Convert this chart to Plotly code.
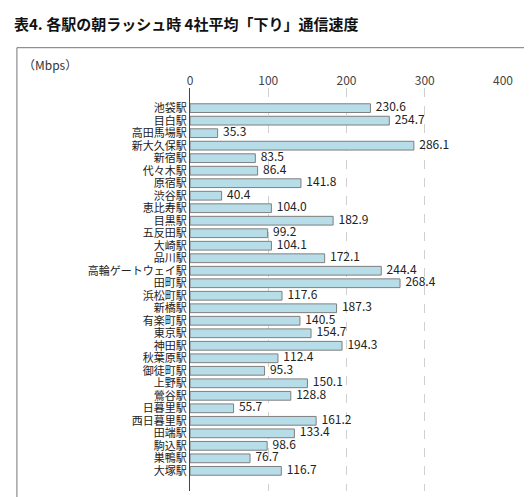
import plotly.graph_objects as go

stations = ["池袋駅", "目白駅", "高田馬場駅", "新大久保駅", "新宿駅", "代々木駅", "原宿駅", "渋谷駅",
            "恵比寿駅", "目黒駅", "五反田駅", "大崎駅", "品川駅", "高輪ゲートウェイ駅", "田町駅",
            "浜松町駅", "新橋駅", "有楽町駅", "東京駅", "神田駅", "秋葉原駅", "御徒町駅", "上野駅",
            "鶯谷駅", "日暮里駅", "西日暮里駅", "田端駅", "駒込駅", "巣鴨駅", "大塚駅"]
speeds = [230.6, 254.7, 35.3, 286.1, 83.5, 86.4, 141.8, 40.4, 104.0, 182.9, 99.2, 104.1,
          172.1, 244.4, 268.4, 117.6, 187.3, 140.5, 154.7, 194.3, 112.4, 95.3, 150.1,
          128.8, 55.7, 161.2, 133.4, 98.6, 76.7, 116.7]
x_ticks = [0, 100, 200, 300, 400]

font = "Noto Sans CJK JP"

fig = go.Figure()
fig.add_trace(go.Bar(
    y=stations,
    x=speeds,
    orientation='h',
    marker=dict(color='#b7dde8', line=dict(color='#7f7f7f', width=1)),
    width=0.7,
))
# value labels
fig.add_trace(go.Scatter(
    y=stations,
    x=speeds,
    mode='text',
    text=[f"  {v:.1f}" for v in speeds],
    textposition='middle right',
    cliponaxis=False,
    textfont=dict(color='#222', size=12, family=font)
))

fig.update_layout(
    width=532, height=497,
    plot_bgcolor='white', paper_bgcolor='white',
    margin=dict(l=182, r=37, t=80, b=14),
    showlegend=False,
    font=dict(family=font, color='#333'),
    xaxis=dict(side='top', range=[0, 400], tickvals=x_ticks, tickfont=dict(size=12, color='#444'),
               showgrid=True, gridcolor='#d0d0d0', griddash='dash', zeroline=False,
               ticks='', showline=False),
    yaxis=dict(autorange='reversed', tickmode='array', tickvals=stations,
               tickfont=dict(size=11, color='#222'), ticks='',
               showline=True, linecolor='#444', linewidth=1),
    shapes=[dict(type='rect', xref='paper', yref='paper', x0=-0.553, x1=1.108, y0=-0.02, y1=1.10,
                 line=dict(color='#777', width=1), layer='above')],
    annotations=[
        dict(text="<b>表4. 各駅の朝ラッシュ時 4社平均「下り」通信速度</b>", xref='paper', yref='paper',
             x=-0.57, y=1.19, xanchor='left', yanchor='top', showarrow=False,
             font=dict(size=15, color='#111')),
        dict(text="（Mbps）", xref='paper', yref='paper', x=-0.54, y=1.058,
             xanchor='left', yanchor='middle', showarrow=False, font=dict(size=12, color='#333')),
    ],
)

fig.write_html("out.html")
